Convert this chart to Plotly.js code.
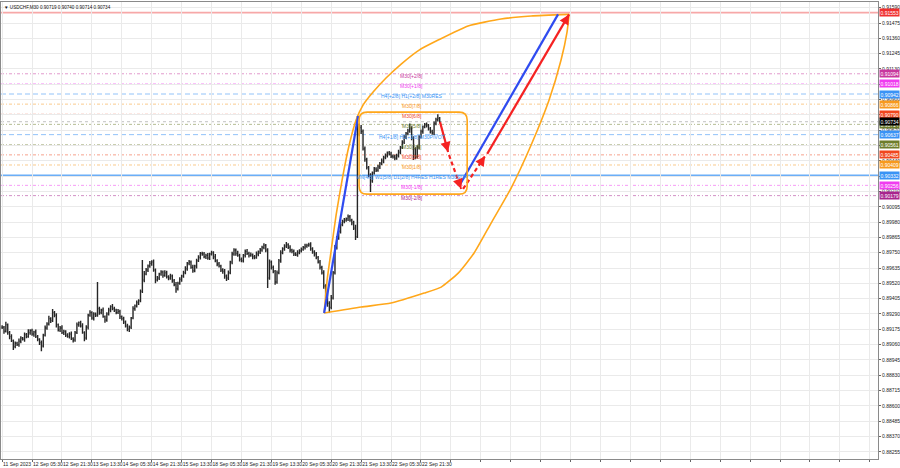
<!DOCTYPE html>
<html><head><meta charset="utf-8">
<script src="https://cdn.plot.ly/plotly-3.0.1.min.js"></script>
<style>html,body{margin:0;padding:0;background:#fff}#chart{width:900px;height:468px}</style>
</head><body><div id="chart"></div>
<script>
// ---------- DATA ----------
const symbolTitle = "USDCHF,M30";
const lastBarOHLC = [0.90719, 0.90740, 0.90714, 0.90734];

// hourly closes (index 0 = left edge of chart)
const closes = [
.89190,.89160,.89210,.89150,.89120,.89090,.89045,.89070,.89060,.89085,
.89110,.89100,.89135,.89120,.89150,.89165,.89140,.89155,.89120,.89100,
.89075,.89050,.89130,.89185,.89215,.89255,.89240,.89300,.89280,.89210,
.89170,.89185,.89150,.89160,.89130,.89120,.89140,.89105,.89095,.89150,
.89210,.89225,.89200,.89150,.89110,.89190,.89280,.89300,.89260,.89290,
.89280,.89330,.89300,.89320,.89270,.89245,.89290,.89320,.89345,.89330,
.89320,.89300,.89310,.89270,.89255,.89230,.89200,.89175,.89190,.89260,
.89330,.89350,.89375,.89390,.89460,.89545,.89590,.89620,.89650,.89670,
.89680,.89620,.89545,.89560,.89590,.89605,.89580,.89600,.89570,.89560,
.89575,.89540,.89510,.89480,.89520,.89550,.89575,.89600,.89630,.89670,
.89680,.89640,.89615,.89650,.89690,.89715,.89745,.89740,.89720,.89730,
.89710,.89740,.89750,.89720,.89690,.89665,.89650,.89620,.89610,.89575,
.89560,.89600,.89680,.89740,.89770,.89745,.89730,.89700,.89690,.89730,
.89760,.89745,.89730,.89735,.89720,.89715,.89740,.89755,.89770,.89790,
.89805,.89770,.89560,.89680,.89640,.89610,.89530,.89600,.89690,.89750,
.89780,.89800,.89810,.89790,.89770,.89760,.89740,.89735,.89750,.89765,
.89775,.89790,.89800,.89805,.89810,.89780,.89755,.89740,.89715,.89680,
.89640,.89600,.89500,.89440,.89370,.89340,.89410,.89600,.89790,.89860,
.89910,.89960,.89985,.89995,.90005,.90020,.89995,.89975,.89935,.89870,
.90640,.90690,.90660,.90530,.90450,.90390,.90330,.90290,.90350,.90380,
.90370,.90395,.90420,.90440,.90465,.90480,.90500,.90490,.90475,.90470,
.90460,.90480,.90505,.90540,.90580,.90620,.90645,.90665,.90680,.90610,
.90530,.90470,.90540,.90620,.90660,.90695,.90710,.90705,.90680,.90660,
.90650,.90720,.90750,.90760,.90734];

// upper / lower wick lengths in points (0.00001)
const wickUp = [
15,10,22,8,12,18,9,14,11,20, 13,7,16,12,25,10,14,9,18,12,
8,15,11,19,13,22,10,27,12,16, 9,14,20,11,8,15,12,18,10,13,
17,9,14,21,11,16,12,18,10,14, 12,200,15,10,18,9,13,16,11,20,
14,10,18,12,9,15,11,17,13,8, 19,12,16,10,14,150,22,15,12,18,
13,20,11,16,9,14,12,18,15,10, 17,11,13,20,12,16,9,14,18,11,
15,12,19,10,14,17,11,13,16,12, 18,10,14,12,20,11,15,9,13,17,
12,16,10,18,14,11,19,12,15,10, 14,18,12,16,10,13,20,11,15,12,
16,11,14,19,12,15,10,17,13,18, 11,14,20,12,16,10,15,13,18,12,
14,10,17,12,15,19,11,13,16,10, 15,12,18,14,20,16,22,12,18,15,
14,20,12,16,10,18,13,11,15,25, 136,30,20,15,18,14,12,16,10,14,
12,15,11,18,13,16,10,14,19,12, 16,13,18,11,15,14,12,17,40,20,
15,12,18,13,16,11,14,19,12,15, 13,16,14,30,10];
const wickDn = [
12,18,9,15,20,11,25,13,10,16, 14,10,19,12,8,16,13,20,11,15,
18,40,12,9,14,11,17,10,15,22, 12,16,10,18,13,9,15,11,20,14,
10,15,12,9,25,13,16,11,14,18, 13,10,16,12,9,20,14,11,17,12,
15,12,10,18,13,16,11,14,20,12, 9,15,12,18,11,13,16,10,14,12,
17,13,25,11,15,12,18,10,14,16, 12,16,11,30,14,10,17,13,12,15,
14,11,16,12,18,10,15,13,11,17, 13,15,10,18,12,16,11,14,17,20,
22,14,11,16,13,18,10,15,12,14, 16,12,15,10,18,13,11,17,14,12,
13,17,75,12,16,14,20,13,11,15, 12,16,14,11,18,13,15,10,16,12,
14,11,16,13,10,15,12,18,14,11, 16,13,20,18,25,40,15,12,14,16,
12,15,11,14,13,16,12,18,14,25, 10,15,18,12,16,14,13,84,15,12,
14,11,16,13,18,12,15,10,14,13, 15,12,14,16,11,13,15,12,14,16,
84,18,12,15,13,16,11,14,12,15, 13,16,12,14,11];

const timeLabels = ["11 Sep 2023","12 Sep 05:30","12 Sep 21:30","13 Sep 13:30","14 Sep 05:30",
  "14 Sep 21:30","15 Sep 13:30","18 Sep 05:30","18 Sep 21:30","19 Sep 13:30","20 Sep 05:30",
  "20 Sep 21:30","21 Sep 13:30","22 Sep 05:30","22 Sep 21:30"];
const yTicks = [0.91590,0.91475,0.91360,0.91245,0.91130,0.91015,0.90900,0.90785,0.90670,0.90555,
  0.90440,0.90325,0.90210,0.90095,0.89980,0.89865,0.89750,0.89635,0.89520,0.89405,0.89290,
  0.89175,0.89060,0.88945,0.88830,0.88715,0.88600,0.88485,0.88370,0.88255];

// Murrey math levels
const levelPrices = [0.91094,0.91018,0.90942,0.90866,0.90790,0.90714,0.90637,0.90561,0.90485,0.90409,0.90332,0.90256,0.90179];
const levelNames = ["M30[+2/8]","M30[+1/8]","H4[+2/8] H1[+2/8] M30RES","M30[7/8]","M30[6/8]","M30[5/8]",
  "H4[+1/8] H1[+1/8] M30PIVOT","M30[3/8]","M30[2/8]","M30[1/8]","MN[4/8] W1[5/8] D1[2/8] H4RES H1RES M30SUP",
  "M30[-1/8]","M30[-2/8]"];
const targetPrice = 0.91553;
const bidPrice = 0.90734;

// projection drawings (x in hourly bar index, y in price)
const leafUpX = [172.2,173.8,176,178.6,181.8,185.6,189.3,193,198.4,205.3,213.4,223,233.2,249.2,266.8,282.9,303.2];
const leafUpP = [0.89297,0.89545,0.89770,0.90033,0.90296,0.90559,0.90747,0.90859,0.90957,0.91062,0.91167,0.91272,0.91347,0.91453,0.91505,0.91528,0.91540];
const leafLoX = [172.2,192,208,225.7,234.8,243.9,252.4,261.5,272.2,282.9,292.5,298.9,302.1,303.2];
const leafLoP = [0.89297,0.89342,0.89372,0.89447,0.89492,0.89597,0.89748,0.89973,0.90236,0.90559,0.90897,0.91197,0.91407,0.91540];
const boxX = [190.9, 248.7];
const boxP = [0.90190, 0.90806];
const blueX = [[172.2,190.4],[244.4,297.3]];
const blueP = [[0.89297,0.90777],[0.90251,0.91540]];
const redX = [[234.2,238.5],[239,245.5],[246.5,258.3],[259.4,303.2]];
const redP = [[0.90731,0.90506],[0.90484,0.90229],[0.90229,0.90477],[0.90492,0.91540]];

// ---------- STYLE ----------
const levelColor = ["#C8389E","#F03CF0","#3A93F5","#F7991E","#F0461E","#6E7D2C","#3A93F5","#6E7D2C","#F0461E","#F7991E","#3A93F5","#F03CF0","#A8258E"];
const levelDash  = ["dot","dot","dash","dot","dot","dot","dash","dot","dot","dot","solid","dot","dot"];
const levelWidth = [1,1,1,1,1,1,1,1,1,1,1.5,1,1];
const levelOpacity=[0.5,0.5,0.55,0.5,0.5,0.5,0.55,0.5,0.5,0.5,0.75,0.5,0.5];
const redDash = ["solid","dash","dash","solid"];

const W = 900, H = 468, M = {l:1, r:22, t:2, b:9};
const xr = [-0.6, 468.4], yr = [0.88201, 0.91633];
const pxPerX = (W - M.l - M.r) / (xr[1] - xr[0]);
const pxPerP = (H - M.t - M.b) / (yr[1] - yr[0]);

// ---------- BUILD ----------
const idx = closes.map((_, i) => i);
const opens = closes.map((c, i) => i === 0 ? c : closes[i - 1]);
const highs = closes.map((c, i) => Math.max(c, opens[i]) + wickUp[i] * 1e-5);
const lows  = closes.map((c, i) => Math.min(c, opens[i]) - wickDn[i] * 1e-5);

const traces = [];
traces.push({type:'ohlc', x: idx, open: opens, high: highs, low: lows, close: closes,
  increasing:{line:{color:'#262626', width:1.4}}, decreasing:{line:{color:'#262626', width:1.4}},
  tickwidth:0.45, hoverinfo:'skip', showlegend:false});

traces.push({type:'scatter', mode:'lines', x: leafUpX, y: leafUpP, line:{color:'#FFA71A', width:1.6, shape:'spline', smoothing:0.5}, hoverinfo:'skip', showlegend:false});
traces.push({type:'scatter', mode:'lines', x: leafLoX, y: leafLoP, line:{color:'#FFA71A', width:1.6, shape:'spline', smoothing:0.5}, hoverinfo:'skip', showlegend:false});

blueX.forEach((bx, k) => traces.push({type:'scatter', mode:'lines', x: bx, y: blueP[k],
  line:{color:'#2F4BF0', width:2.2}, hoverinfo:'skip', showlegend:false}));
redX.forEach((rx, k) => traces.push({type:'scatter', mode:'lines', x: rx, y: redP[k],
  line:{color:'#F52222', width:2.2, dash: redDash[k] === 'dash' ? '4px,3px' : 'solid'}, hoverinfo:'skip', showlegend:false}));

const shapes = [];
shapes.push({type:'line', xref:'paper', x0:0, x1:1, yref:'y', y0:targetPrice, y1:targetPrice,
  line:{color:'#F7A8A8', width:1.6}, layer:'below'});
shapes.push({type:'line', xref:'paper', x0:0, x1:1, yref:'y', y0:bidPrice, y1:bidPrice,
  line:{color:'#9a9a9a', width:1, dash:'dot'}, layer:'below', opacity:0.6});
levelPrices.forEach((p, i) => shapes.push({type:'line', xref:'paper', x0:0, x1:1, yref:'y', y0:p, y1:p,
  line:{color: levelColor[i], width: levelWidth[i], dash: levelDash[i] === 'dot' ? '3px,2px,1px,2px' : (levelDash[i] === 'dash' ? '5px,3px' : 'solid')},
  opacity: levelOpacity[i], layer:'below'}));
(function(){
  const rx = 8 / pxPerX, ry = 8 / pxPerP;
  const [x0, x1] = boxX, [y0, y1] = boxP;
  const path = `M ${x0+rx},${y1} L ${x1-rx},${y1} Q ${x1},${y1} ${x1},${y1-ry} L ${x1},${y0+ry} Q ${x1},${y0} ${x1-rx},${y0} L ${x0+rx},${y0} Q ${x0},${y0} ${x0},${y0+ry} L ${x0},${y1-ry} Q ${x0},${y1} ${x0+rx},${y1} Z`;
  shapes.push({type:'path', xref:'x', yref:'y', path, line:{color:'#FFA71A', width:1.6}, fillcolor:'rgba(0,0,0,0)'});
})();

const annotations = [];
annotations.push({xref:'paper', yref:'paper', x:0, y:1, xanchor:'left', yanchor:'top', xshift:1, yshift:-1,
  text: '\u25BC ' + symbolTitle + ' ' + lastBarOHLC.map(v => v.toFixed(5)).join(' '),
  showarrow:false, font:{size:4.6, color:'#111', family:'Liberation Sans, Arial'}});
const labelX = 219;
levelPrices.forEach((p, i) => annotations.push({x: labelX, y: p, xref:'x', yref:'y', yshift:-2,
  text: levelNames[i], showarrow:false, font:{size:5, color: levelColor[i], family:'Liberation Sans, Arial'}}));
const tagPrices = [targetPrice].concat(levelPrices, [bidPrice]);
function tag(p, bg, fg){
  annotations.push({xref:'paper', x:1, xanchor:'left', xshift:1, yref:'y', y:p, text:p.toFixed(5),
    showarrow:false, bgcolor:bg, borderpad:0.5, font:{size:5, color:fg, family:'Liberation Sans, Arial'}});
}
tag(targetPrice, '#F03030', '#fff');
levelPrices.forEach((p, i) => tag(p, levelColor[i], '#fff'));
tag(bidPrice, '#000', '#fff');
redX.forEach((rx, k) => {
  const dx = (rx[1] - rx[0]) * pxPerX, dy = -(redP[k][1] - redP[k][0]) * pxPerP;
  const L = Math.hypot(dx, dy);
  annotations.push({x: rx[1], y: redP[k][1], xref:'x', yref:'y', showarrow:true, text:'',
    ax: -dx / L * 7, ay: -dy / L * 7, arrowhead:2, arrowsize:1, arrowwidth:2, arrowcolor:'#F52222', standoff:0});
});

// axis labels hidden under a price tag (as on the terminal)
const yTickText = yTicks.map(v => tagPrices.some(t => Math.abs(t - v) * pxPerP < 3.5) ? '' : v.toFixed(5));

const tickvals = [], ticktext = [];
for (let k = 0; k < 30; k++) { tickvals.push(16 * k); ticktext.push(k < timeLabels.length ? timeLabels[k] : ''); }

const layout = {
  width: W, height: H, margin: M, paper_bgcolor:'#fff', plot_bgcolor:'#fff', showlegend:false,
  font:{family:'Liberation Sans, Arial', size:5, color:'#222'},
  xaxis:{range: xr, tickvals, ticktext, tickangle:0, automargin:false, ticklabelposition:'outside right', ticks:'outside', ticklen:2,
    tickcolor:'#666', showgrid:true, gridcolor:'#EAEAEA', gridwidth:1, zeroline:false, showline:true, mirror:true,
    linecolor:'#8a8a8a', linewidth:1, rangeslider:{visible:false}, tickfont:{size:5, color:'#222'}, fixedrange:true},
  yaxis:{range: yr, side:'right', automargin:false, tickvals: yTicks, ticktext: yTickText, ticks:'outside', ticklen:2,
    tickcolor:'#666', showgrid:true, gridcolor:'#EAEAEA', gridwidth:1, zeroline:false, showline:true, mirror:true,
    linecolor:'#8a8a8a', linewidth:1, tickfont:{size:5, color:'#222'}, fixedrange:true},
  shapes, annotations
};
Plotly.newPlot('chart', traces, layout, {displayModeBar:false, staticPlot:true});
</script>
</body></html>
